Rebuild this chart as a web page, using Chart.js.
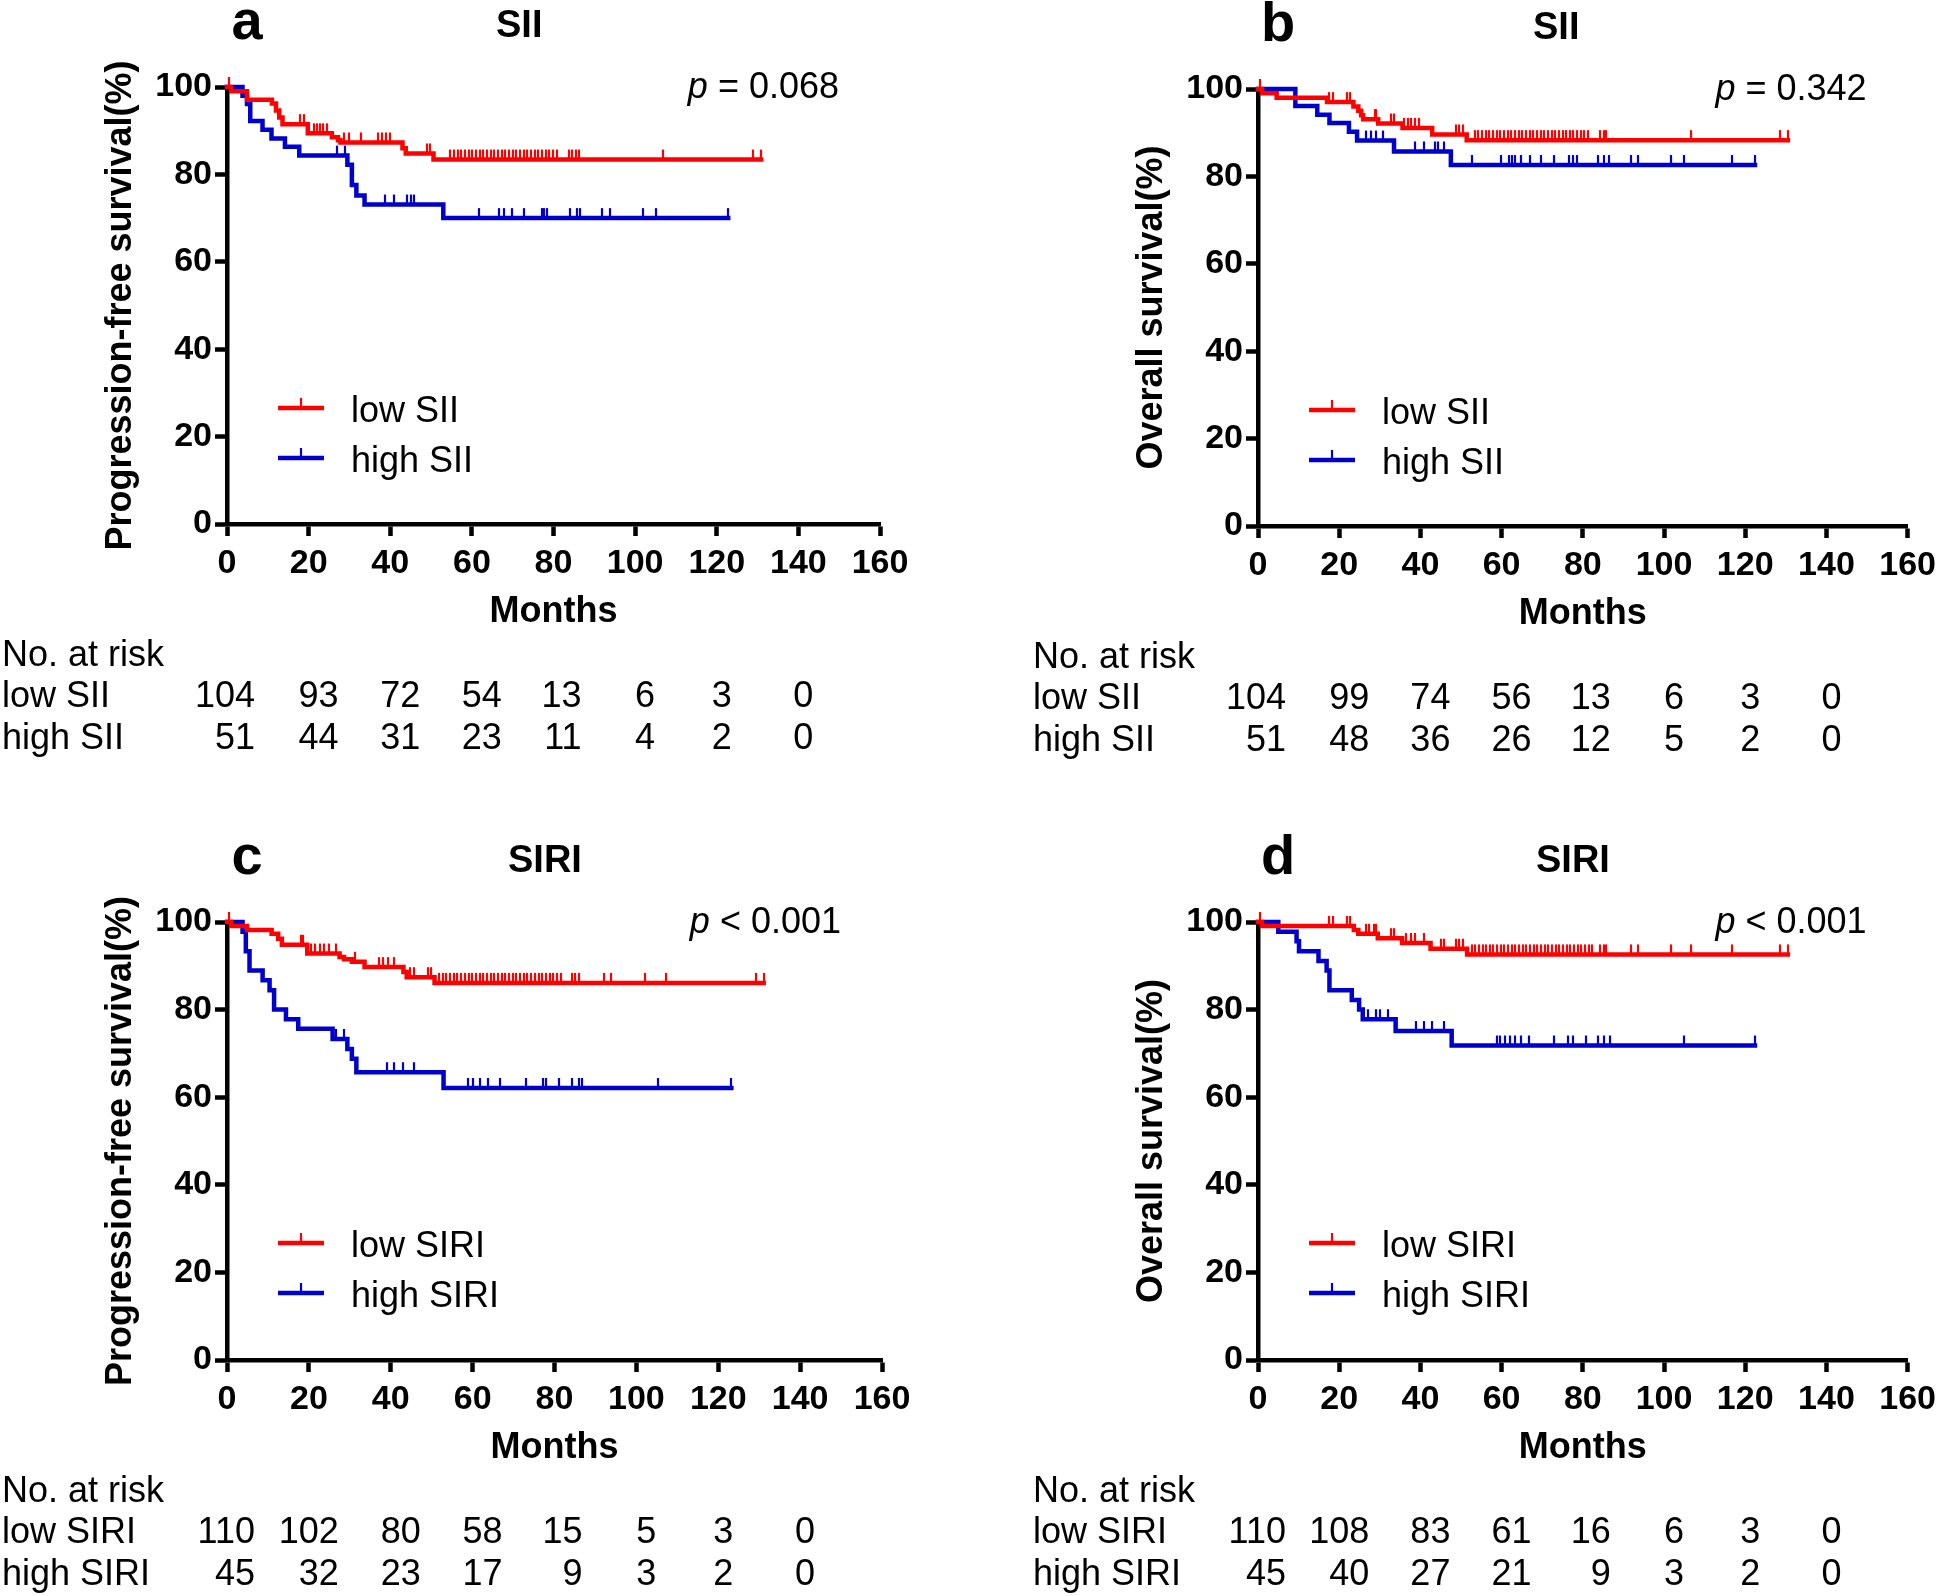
<!DOCTYPE html>
<html><head><meta charset="utf-8">
<script src="https://cdn.jsdelivr.net/npm/chart.js@4.4.0/dist/chart.umd.min.js"></script>
<style>
html,body{margin:0;padding:0;background:#fff;overflow:hidden;}
#wrap{position:relative;width:1943px;height:1596px;background:#fff;}
canvas{position:absolute;}
</style></head><body><div id="wrap">
<canvas id="ca" width="971" height="798" style="left:0px;top:0px"></canvas>
<canvas id="cb" width="972" height="798" style="left:971px;top:0px"></canvas>
<canvas id="cc" width="971" height="798" style="left:0px;top:798px"></canvas>
<canvas id="cd" width="972" height="798" style="left:971px;top:798px"></canvas>
</div>
<script>
// ---------- data ----------
const riskMonths = [0, 20, 40, 60, 80, 100, 120, 140];

// a: PFS by SII
const aLowTime  = [1.0, 4.9, 11.0, 12.0, 12.8, 13.6, 19.8, 25.7, 27.2, 27.8, 43.0, 43.8, 50.6];
const aLowSurv  = [99.0, 97.1, 96.2, 94.6, 93.0, 91.5, 89.4, 88.5, 87.8, 87.3, 86.0, 84.8, 83.4];
const aLowCensor = [0.6, 17.8, 18.8, 21.2, 22.0, 22.8, 23.6, 24.6, 28.6, 29.8, 32.8, 37.0, 38.0, 39.0, 40.0, 49.0, 49.8,
  54.7, 55.6, 56.5, 57.4, 58.3, 59.2, 60.1, 61.0, 61.9, 62.8, 63.7, 64.6, 65.5, 66.4, 67.3, 68.2, 69.1, 70.0, 70.9, 71.8,
  72.7, 73.6, 74.5, 75.4, 76.3, 77.2, 78.1, 79.0, 79.9, 80.8, 83.7, 84.5, 85.4, 86.2, 106.8, 129.0, 130.9];
const aHighTime = [3.8, 4.9, 5.7, 8.7, 10.9, 14.2, 17.7, 29.5, 30.6, 31.7, 33.7, 53.0];
const aHighSurv = [98.0, 96.1, 92.2, 90.2, 88.2, 86.3, 84.3, 82.2, 77.6, 75.2, 73.1, 70.0];
const aHighCensor = [26.9, 28.8, 38.8, 41.0, 44.0, 45.0, 45.9, 61.8, 66.7, 67.8, 69.8, 72.7, 77.1, 77.6, 78.5, 84.0, 85.8,
  86.6, 91.9, 93.8, 101.9, 105.0, 122.8];
const aRiskLow  = [104, 93, 72, 54, 13, 6, 3, 0];
const aRiskHigh = [51, 44, 31, 23, 11, 4, 2, 0];

// b: OS by SII
const bLowTime  = [1.0, 4.6, 17.0, 23.5, 24.7, 25.4, 25.9, 29.6, 35.6, 42.9, 51.4];
const bLowSurv  = [99.0, 98.0, 97.0, 96.0, 95.0, 94.0, 93.1, 92.1, 91.1, 89.6, 88.3];
const bLowCensor = [0.6, 17.5, 18.5, 21.9, 22.7, 28.7, 29.1, 32.7, 33.5, 36.0, 36.9, 37.8, 38.7, 39.6, 48.8, 49.4, 50.6,
  53.4, 54.3, 55.2, 56.1, 57.0, 57.9, 58.8, 59.7, 60.6, 61.5, 62.4, 63.3, 64.2, 65.1, 66.0, 66.9, 67.8, 68.7, 69.6, 70.5,
  71.4, 72.3, 73.2, 74.1, 75.0, 75.9, 76.8, 77.7, 78.6, 79.5, 80.4, 81.3, 84.2, 85.1, 85.8, 106.7, 128.6, 130.5];
const bHighTime = [9.2, 14.6, 17.6, 22.4, 24.4, 33.5, 47.5];
const bHighSurv = [96.1, 94.1, 92.2, 90.2, 88.2, 85.7, 82.6];
const bHighCensor = [26.7, 27.9, 29.1, 30.7, 38.6, 40.8, 43.6, 44.4, 45.7, 52.8, 59.8, 61.7, 62.6, 63.4, 64.7, 66.9, 69.8,
  72.8, 76.6, 77.7, 78.6, 83.7, 85.3, 86.4, 91.8, 93.7, 101.7, 104.8, 116.7, 122.4];
const bRiskLow  = [104, 99, 74, 56, 13, 6, 3, 0];
const bRiskHigh = [51, 48, 36, 26, 12, 5, 2, 0];

// c: PFS by SIRI
const cLowTime  = [1.0, 4.9, 10.9, 12.5, 13.4, 19.6, 27.5, 28.6, 30.5, 33.6, 43.1, 43.9, 50.7];
const cLowSurv  = [99.1, 98.2, 97.3, 96.2, 94.8, 92.8, 92.0, 91.5, 90.9, 89.7, 88.6, 87.4, 86.1];
const cLowCensor = [0.6, 18.0, 18.5, 20.5, 21.5, 22.7, 23.8, 25.0, 26.7, 31.2, 37.1, 38.0, 39.3, 40.9, 44.7, 45.6, 49.1, 49.9,
  51.8, 52.7, 53.6, 54.5, 55.4, 56.3, 57.2, 58.1, 59.0, 59.9, 60.8, 61.7, 62.6, 63.5, 64.4, 65.3, 66.2, 67.1, 68.0, 68.9,
  69.8, 70.7, 71.6, 72.5, 73.4, 74.3, 75.2, 76.1, 77.0, 77.9, 78.8, 79.7, 80.6, 81.5, 84.2, 85.1, 85.9, 92.1, 93.8, 102.2,
  107.2, 129.2, 131.1];
const cHighTime = [3.8, 4.6, 5.5, 8.7, 10.4, 11.5, 14.4, 17.4, 25.8, 29.4, 30.5, 31.6, 52.9];
const cHighSurv = [97.8, 93.3, 88.9, 86.7, 84.4, 80.0, 77.8, 75.6, 73.3, 71.0, 68.8, 65.7, 62.1];
const cHighCensor = [26.7, 28.6, 39.0, 40.9, 43.1, 45.8, 58.9, 60.2, 61.9, 63.8, 66.7, 73.1, 77.2, 78.0, 81.2, 84.2, 85.9,
  86.7, 105.2, 123.2];
const cRiskLow  = [110, 102, 80, 58, 15, 5, 3, 0];
const cRiskHigh = [45, 32, 23, 17, 9, 3, 2, 0];

// d: OS by SIRI
const dLowTime  = [1.0, 23.6, 24.7, 29.5, 35.5, 42.5, 51.5];
const dLowSurv  = [99.1, 98.2, 97.3, 96.3, 95.2, 93.9, 92.6];
const dLowCensor = [0.6, 17.6, 18.4, 22.0, 22.7, 26.6, 27.4, 28.5, 29.0, 32.8, 33.5, 36.4, 37.7, 38.7, 40.9, 45.0, 45.8,
  48.7, 49.6, 50.4, 52.6, 53.5, 54.4, 55.3, 56.2, 57.1, 58.0, 58.9, 59.8, 60.7, 61.6, 62.5, 63.4, 64.3, 65.2, 66.1, 67.0,
  67.9, 68.8, 69.7, 70.6, 71.5, 72.4, 73.3, 74.2, 75.1, 76.0, 76.9, 77.8, 78.7, 79.6, 80.5, 81.4, 82.3, 84.2, 85.1, 85.8,
  91.8, 93.7, 101.8, 106.7, 116.7, 128.6, 130.5];
const dHighTime = [5.0, 9.5, 10.1, 14.9, 16.9, 17.6, 23.1, 24.9, 25.8, 33.9, 47.7];
const dHighSurv = [97.8, 95.6, 93.3, 91.1, 88.9, 84.4, 82.2, 80.0, 77.8, 75.1, 71.8];
const dHighCensor = [27.1, 29.0, 30.0, 32.0, 39.0, 40.9, 42.9, 45.8, 58.8, 59.6, 60.9, 62.0, 63.4, 64.7, 66.7, 72.8, 76.4,
  77.5, 80.7, 83.7, 85.3, 86.6, 104.8, 122.4];
const dRiskLow  = [110, 108, 83, 61, 16, 6, 3, 0];
const dRiskHigh = [45, 40, 27, 21, 9, 3, 2, 0];

// ---------- rendering ----------
const FONT = '"Liberation Sans", Arial, Helvetica, sans-serif';
const RED = '#ff0000', BLUE = '#0000cc';
const riskDx = [28, 30, 30, 30, 28, 20, 15, 15];

function stepData(times, surv, censor) {
  const pts = [{x: 0, y: 100}];
  times.forEach((t, i) => pts.push({x: t, y: surv[i]}));
  const end = Math.max(...censor, times[times.length - 1]);
  pts.push({x: end, y: surv[surv.length - 1]});
  return pts;
}
function survAt(pts, t) {
  let s = 100;
  for (const p of pts) { if (p.x <= t) s = p.y; else break; }
  return s;
}

const extras = {
  id: 'extras',
  afterDatasetsDraw(chart) {
    const ctx = chart.ctx, xs = chart.scales.x, ys = chart.scales.y;
    ctx.save();
    ctx.lineWidth = 2.2;
    chart.data.datasets.forEach(ds => {
      ctx.strokeStyle = ds.borderColor;
      ds.censor.forEach(t => {
        const x = Math.round(xs.getPixelForValue(t));
        const y = ys.getPixelForValue(survAt(ds.data, t));
        ctx.beginPath(); ctx.moveTo(x, y); ctx.lineTo(x, y - 10); ctx.stroke();
      });
    });
    ctx.restore();
  },
  afterDraw(chart) {
    const c = chart.options.plugins.extras, ctx = chart.ctx, a = chart.chartArea, xs = chart.scales.x;
    ctx.save();
    ctx.fillStyle = '#000';
    ctx.textBaseline = 'alphabetic';
    // panel letter & title
    ctx.font = `bold 56px ${FONT}`; ctx.textAlign = 'center';
    ctx.fillText(c.letter, a.left + 20, a.top - 48);
    ctx.font = `bold 38px ${FONT}`; ctx.textAlign = 'left';
    ctx.fillText(c.title, a.left + c.titleDx, a.top - 50);
    // p value
    ctx.font = `36px ${FONT}`;
    const rest = ' ' + c.p;
    const wr = ctx.measureText(rest).width;
    ctx.font = `italic 36px ${FONT}`;
    const wp = ctx.measureText('p').width;
    const x0 = a.right - 41 - wr - wp;
    ctx.fillText('p', x0, a.top + 11);
    ctx.font = `36px ${FONT}`;
    ctx.fillText(rest, x0 + wp, a.top + 11);
    // legend
    chart.data.datasets.forEach((ds, i) => {
      const y = a.top + 321 + i * 50;
      ctx.strokeStyle = ds.borderColor;
      ctx.lineWidth = 4.5;
      ctx.beginPath(); ctx.moveTo(a.left + 51, y); ctx.lineTo(a.left + 97, y); ctx.stroke();
      ctx.lineWidth = 2.2;
      ctx.beginPath(); ctx.moveTo(a.left + 74, y); ctx.lineTo(a.left + 74, y - 10); ctx.stroke();
      ctx.fillStyle = '#000';
      ctx.font = `36px ${FONT}`; ctx.textAlign = 'left';
      ctx.fillText(ds.label, a.left + 124, y + 14);
    });
    // number at risk table
    ctx.font = `36px ${FONT}`; ctx.textAlign = 'left'; ctx.fillStyle = '#000';
    ctx.fillText('No. at risk', a.left - 225, a.bottom + 142);
    const rows = [[chart.data.datasets[0].label, c.riskLow], [chart.data.datasets[1].label, c.riskHigh]];
    rows.forEach((r, j) => {
      const y = a.bottom + 183 + j * 42;
      ctx.textAlign = 'left';
      ctx.fillText(r[0], a.left - 225, y);
      ctx.textAlign = 'right';
      r[1].forEach((v, i) => {
        ctx.fillText(String(v), xs.getPixelForValue(riskMonths[i]) + riskDx[i], y);
      });
    });
    ctx.restore();
  }
};

function makeChart(id, cfg) {
  const canvas = document.getElementById(id);
  const W = canvas.width, H = canvas.height, ar = cfg.area;
  const tickFont = {family: FONT, size: 34, weight: 'bold'};
  const titleFont = {family: FONT, size: 36, weight: 'bold', lineHeight: 1.2};
  const lowData = stepData(cfg.lowTime, cfg.lowSurv, cfg.lowCensor);
  const highData = stepData(cfg.highTime, cfg.highSurv, cfg.highCensor);
  new Chart(canvas, {
    type: 'scatter',
    data: {
      datasets: [
        {label: cfg.lowName, data: lowData, censor: cfg.lowCensor, borderColor: RED, backgroundColor: RED,
         showLine: true, stepped: 'before', borderWidth: 4.5, pointRadius: 0, clip: false, borderCapStyle: 'square'},
        {label: cfg.highName, data: highData, censor: cfg.highCensor, borderColor: BLUE, backgroundColor: BLUE,
         showLine: true, stepped: 'before', borderWidth: 4.5, pointRadius: 0, clip: false, borderCapStyle: 'square'}
      ]
    },
    options: {
      responsive: false, animation: false, devicePixelRatio: 1,
      layout: {padding: {left: ar.left - 227, top: ar.top, right: W - ar.right, bottom: H - ar.bottom - 110}},
      plugins: {
        legend: {display: false}, tooltip: {enabled: false},
        extras: {letter: cfg.letter, title: cfg.title, titleDx: cfg.titleDx, p: cfg.p,
                 riskLow: cfg.riskLow, riskHigh: cfg.riskHigh}
      },
      scales: {
        x: {
          type: 'linear', min: 0, max: 160,
          ticks: {stepSize: 20, font: tickFont, color: '#000', padding: 7, maxRotation: 0, autoSkip: false},
          grid: {drawOnChartArea: false, drawTicks: true, tickLength: 12, tickWidth: 4.5, tickColor: '#000'},
          border: {display: true, color: '#000', width: 4.5},
          title: {display: true, text: 'Months', font: titleFont, color: '#000', padding: {top: 0, bottom: 0}},
          afterFit(s) { s.height = 110; }
        },
        y: {
          type: 'linear', min: 0, max: 100,
          ticks: {stepSize: 20, font: tickFont, color: '#000', padding: 3},
          grid: {drawOnChartArea: false, drawTicks: true, tickLength: 12, tickWidth: 4.5, tickColor: '#000'},
          border: {display: true, color: '#000', width: 4.5},
          title: {display: true, text: cfg.yTitle, font: titleFont, color: '#000', padding: {top: 99, bottom: 0}},
          afterFit(s) { s.width = 227; }
        }
      }
    },
    plugins: [extras]
  });
}

makeChart('ca', {letter: 'a', title: 'SII', titleDx: 269, p: '= 0.068', yTitle: 'Progression-free survival(%)',
  lowName: 'low SII', highName: 'high SII',
  lowTime: aLowTime, lowSurv: aLowSurv, lowCensor: aLowCensor,
  highTime: aHighTime, highSurv: aHighSurv, highCensor: aHighCensor,
  riskLow: aRiskLow, riskHigh: aRiskHigh,
  area: {left: 227, top: 87, right: 880, bottom: 524}});
makeChart('cb', {letter: 'b', title: 'SII', titleDx: 275, p: '= 0.342', yTitle: 'Overall survival(%)',
  lowName: 'low SII', highName: 'high SII',
  lowTime: bLowTime, lowSurv: bLowSurv, lowCensor: bLowCensor,
  highTime: bHighTime, highSurv: bHighSurv, highCensor: bHighCensor,
  riskLow: bRiskLow, riskHigh: bRiskHigh,
  area: {left: 287, top: 89, right: 946, bottom: 526}});
makeChart('cc', {letter: 'c', title: 'SIRI', titleDx: 281, p: '< 0.001', yTitle: 'Progression-free survival(%)',
  lowName: 'low SIRI', highName: 'high SIRI',
  lowTime: cLowTime, lowSurv: cLowSurv, lowCensor: cLowCensor,
  highTime: cHighTime, highSurv: cHighSurv, highCensor: cHighCensor,
  riskLow: cRiskLow, riskHigh: cRiskHigh,
  area: {left: 227, top: 124, right: 882, bottom: 562}});
makeChart('cd', {letter: 'd', title: 'SIRI', titleDx: 278, p: '< 0.001', yTitle: 'Overall survival(%)',
  lowName: 'low SIRI', highName: 'high SIRI',
  lowTime: dLowTime, lowSurv: dLowSurv, lowCensor: dLowCensor,
  highTime: dHighTime, highSurv: dHighSurv, highCensor: dHighCensor,
  riskLow: dRiskLow, riskHigh: dRiskHigh,
  area: {left: 287, top: 124, right: 946, bottom: 562}});
</script>
</body></html>
